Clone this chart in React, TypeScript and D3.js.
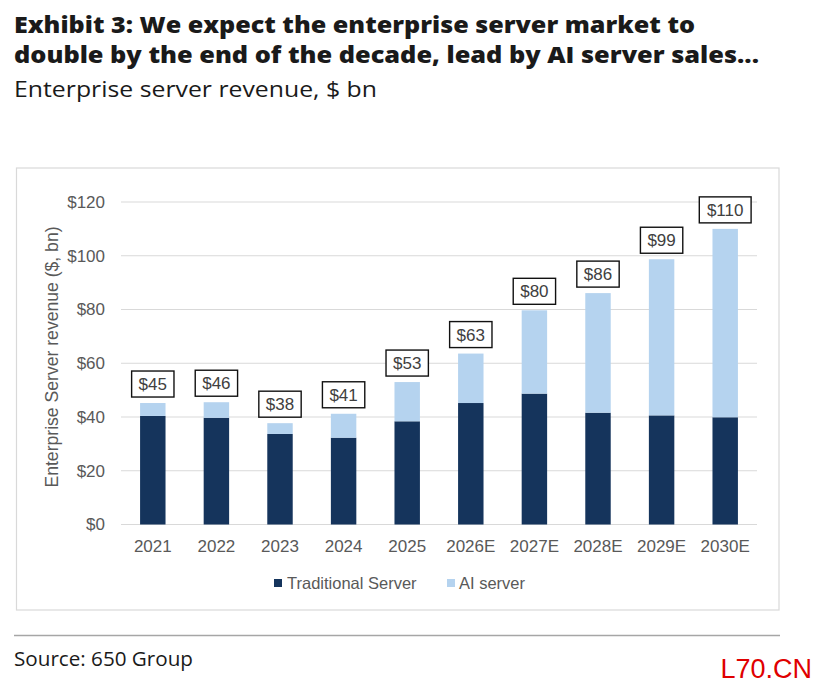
import React from "react";
import * as d3 from "d3";

const categories = ["2021", "2022", "2023", "2024", "2025", "2026E", "2027E", "2028E", "2029E", "2030E"];
const traditional = [40.4, 39.7, 33.7, 32.3, 38.4, 45.2, 48.7, 41.6, 40.6, 39.9];
const aiServer = [4.8, 5.8, 4.0, 8.9, 14.6, 18.4, 31.0, 44.5, 58.1, 70.1];
const totalLabels = ["$45", "$46", "$38", "$41", "$53", "$63", "$80", "$86", "$99", "$110"];
const yTicks = [0, 20, 40, 60, 80, 100, 120];
const seriesNames = ["Traditional Server", "AI server"];

const W = 816;
const H = 690;
const DARK = "#15345c";
const LIGHT = "#b5d3ef";
const AXIS_FONT = "Liberation Sans, Arial, sans-serif";
const TITLE_FONT = "'Open Sans', sans-serif";

export default function App() {
  const x = d3.scaleBand<string>().domain(categories).range([121, 757]).paddingInner(0.6).paddingOuter(0.3);
  const y = d3.scaleLinear().domain([0, 120]).range([524.5, 202]);
  const bw = x.bandwidth();

  return (
    <svg width={W} height={H} style={{ position: "absolute", left: 0, top: 0, background: "#fff" }}>
      <rect x={0} y={0} width={W} height={H} fill="#fff" />
      {/* Title */}
      <text x={14} y={32.6} fontFamily={TITLE_FONT} fontWeight={800} fontSize={22} fill="#1a1a1a" textLength={681} lengthAdjust="spacingAndGlyphs">
        Exhibit 3: We expect the enterprise server market to
      </text>
      <text x={14} y={63} fontFamily={TITLE_FONT} fontWeight={800} fontSize={22} fill="#1a1a1a" textLength={745} lengthAdjust="spacingAndGlyphs">
        double by the end of the decade, lead by AI server sales...
      </text>
      <text x={14} y={96.5} fontFamily={TITLE_FONT} fontSize={22} fill="#1a1a1a" textLength={363} lengthAdjust="spacingAndGlyphs">
        Enterprise server revenue, $ bn
      </text>

      {/* Frame */}
      <rect x={16.5} y={168} width={762.5} height={442} fill="none" stroke="#d9d9d9" strokeWidth={1.2} />

      {/* Gridlines */}
      {yTicks.map((t) => (
        <g key={t}>
          <line x1={121} x2={757} y1={y(t)} y2={y(t)} stroke="#d9d9d9" strokeWidth={1.2} />
          <text x={105} y={y(t)} dy="0.35em" textAnchor="end" fontFamily={AXIS_FONT} fontSize={17} fill="#595959">
            {"$" + t}
          </text>
        </g>
      ))}

      {/* Y axis title */}
      <text
        transform={`translate(57.5,357) rotate(-90)`}
        textAnchor="middle"
        fontFamily={AXIS_FONT}
        fontSize={17.6}
        fill="#595959"
      >
        Enterprise Server revenue ($, bn)
      </text>

      {/* Bars */}
      {categories.map((c, i) => {
        const x0 = x(c) as number;
        const t = traditional[i];
        const a = aiServer[i];
        const top = y(t + a);
        const label = totalLabels[i];
        const boxW = label.length * 0.556 * 17 + 14;
        const cx = x0 + bw / 2;
        return (
          <g key={c}>
            <rect x={x0} y={y(t)} width={bw} height={y(0) - y(t)} fill={DARK} />
            <rect x={x0} y={top} width={bw} height={y(t) - top} fill={LIGHT} />
            <rect x={cx - boxW / 2} y={top - 32} width={boxW} height={26} fill="#fff" stroke="#111" strokeWidth={1.4} />
            <text x={cx} y={top - 19} dy="0.35em" textAnchor="middle" fontFamily={AXIS_FONT} fontSize={17} fill="#404040">
              {label}
            </text>
            <text x={cx} y={546} dy="0.35em" textAnchor="middle" fontFamily={AXIS_FONT} fontSize={17} fill="#595959">
              {c}
            </text>
          </g>
        );
      })}

      {/* Legend */}
      <rect x={274} y={579} width={8} height={8} fill={DARK} />
      <text x={287} y={583.5} dy="0.35em" fontFamily={AXIS_FONT} fontSize={16.5} fill="#595959">
        {seriesNames[0]}
      </text>
      <rect x={447} y={579} width={8} height={8} fill={LIGHT} />
      <text x={459} y={583.5} dy="0.35em" fontFamily={AXIS_FONT} fontSize={16.5} fill="#595959">
        {seriesNames[1]}
      </text>

      {/* Separator & source */}
      <line x1={14} x2={780} y1={635.5} y2={635.5} stroke="#a6a6a6" strokeWidth={1.5} />
      <text x={14} y={666} fontFamily={TITLE_FONT} fontSize={20.5} fill="#1a1a1a" textLength={179} lengthAdjust="spacingAndGlyphs">
        Source: 650 Group
      </text>
      <text x={812} y={678} textAnchor="end" fontFamily={AXIS_FONT} fontSize={27} fill="#e00000">
        L70.CN
      </text>
    </svg>
  );
}
